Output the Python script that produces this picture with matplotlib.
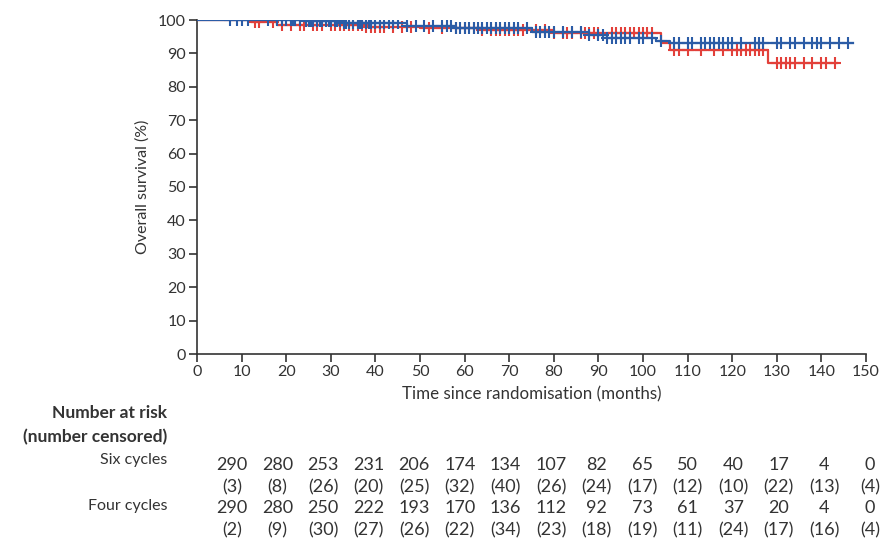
import numpy as np
import matplotlib
matplotlib.use("Agg")
import matplotlib.pyplot as plt

# Kaplan-Meier step data (months, % surviving)
six_t = [0, 24, 33, 47, 58, 75, 88, 92, 103, 106]
six_s = [100, 99.6, 99.0, 98.2, 97.5, 96.5, 95.5, 94.6, 93.8, 93.0]
six_cens = [7.5, 9, 10, 11.5, 16, 18, 19, 20, 21, 21.5, 22, 23, 24.5, 25, 25.5, 26,
            27, 27.5, 28, 29, 29.5, 30, 31, 31.5, 32, 33, 33.5, 34, 35, 36, 36.5, 37,
            38, 38.5, 39, 40, 41, 42, 43, 44, 45, 47, 49, 51, 53, 55, 56, 57, 58, 59,
            60, 61, 62, 63, 64, 65, 66, 67, 68, 69, 70, 71, 72, 74, 76, 77, 78, 79,
            80, 82, 84, 86, 88, 90, 91, 92, 93, 94, 95, 96, 97, 99, 100, 102, 104,
            107, 108, 110, 111, 113, 114, 115, 116, 117, 118, 119, 120, 122, 125,
            126, 127, 130, 131, 133, 134, 136, 138, 139, 140, 142, 144, 146]
six_end = 147

four_t = [0, 12, 18, 38, 50, 64, 80, 104, 106, 128]
four_s = [100, 99.3, 98.6, 98.0, 97.5, 97.0, 96.0, 93.0, 91.0, 87.0]
four_cens = [13, 14, 17, 19, 21, 23, 24, 26, 27, 28, 30, 31, 32, 33, 34, 35, 36, 37,
             38, 39, 40, 41, 42, 44, 46, 48, 52, 55, 58, 60, 62, 64, 66, 67, 68, 69,
             70, 71, 72, 73, 76, 78, 80, 82, 83, 84, 86, 87, 88, 89, 90, 93, 94, 95,
             96, 97, 98, 99, 100, 101, 102, 107, 108, 110, 113, 116, 118, 120, 121,
             122, 123, 124, 125, 126, 127, 130, 131, 132, 133, 134, 136, 138, 140,
             141, 143]
four_end = 143.5

# number at risk table
six_risk = [290, 280, 253, 231, 206, 174, 134, 107, 82, 65, 50, 40, 17, 4, 0]
six_censored = [3, 8, 26, 20, 25, 32, 40, 26, 24, 17, 12, 10, 22, 13, 4]
four_risk = [290, 280, 250, 222, 193, 170, 136, 112, 92, 73, 61, 37, 20, 4, 0]
four_censored = [2, 9, 30, 27, 26, 22, 34, 23, 18, 19, 11, 24, 17, 16, 4]

RED = "#e2403a"
BLUE = "#2b5ca6"
TXT = "#333333"
W, H = 882, 543

plt.rcParams['font.family'] = ['Lato', 'DejaVu Sans']

fig = plt.figure(figsize=(W / 100, H / 100), dpi=100)
ax = fig.add_axes([197 / W, 1 - 354 / H, (866 - 197) / W, (354 - 20) / H])


def draw_km(t, s, cens, end, color):
    t = np.array(t + [end])
    s = np.array(s + [s[-1]])
    ax.step(t, s, where="post", color=color, lw=1.6, zorder=3)
    c = np.array(cens)
    idx = np.searchsorted(t, c, side="right") - 1
    ax.plot(c, s[idx], ls="none", marker="+", ms=8, mew=1.5, color=color, zorder=3)


draw_km(four_t, four_s, four_cens, four_end, RED)
draw_km(six_t, six_s, six_cens, six_end, BLUE)

ax.set_xlim(0, 150)
ax.set_ylim(0, 100)
ax.set_xticks(np.arange(0, 151, 10))
ax.set_yticks(np.arange(0, 101, 10))
for sp in ["top", "right"]:
    ax.spines[sp].set_visible(False)
for sp in ["left", "bottom"]:
    ax.spines[sp].set_color(TXT)
    ax.spines[sp].set_linewidth(1.2)
ax.tick_params(direction="out", length=6, width=1.2, color=TXT, labelcolor=TXT,
               labelsize=11.5, pad=2)
ax.set_ylabel("Overall survival (%)", fontsize=11.5, color=TXT, labelpad=6)
ax.set_xlabel("Time since randomisation (months)", fontsize=12.2, color=TXT, labelpad=5)

# number at risk table
def fy(py):
    return 1 - py / H

fig.text(167 / W, fy(413), "Number at risk", ha="right", va="center",
         fontsize=12.5, fontweight="bold", color=TXT)
fig.text(167 / W, fy(437), "(number censored)", ha="right", va="center",
         fontsize=12.5, fontweight="bold", color=TXT)
fig.text(167 / W, fy(460), "Six cycles", ha="right", va="center", fontsize=11.5, color=TXT)
fig.text(167 / W, fy(506), "Four cycles", ha="right", va="center", fontsize=11.5, color=TXT)

col_px = np.linspace(232, 870, len(six_risk))
rows = [(six_risk, 465, "{}"), (six_censored, 487, "({})"),
        (four_risk, 508, "{}"), (four_censored, 530, "({})")]
for vals, py, fmt in rows:
    for x, v in zip(col_px, vals):
        fig.text(x / W, fy(py), fmt.format(v), ha="center", va="center",
                 fontsize=13, color=TXT)

fig.savefig("out.png", dpi=100)
